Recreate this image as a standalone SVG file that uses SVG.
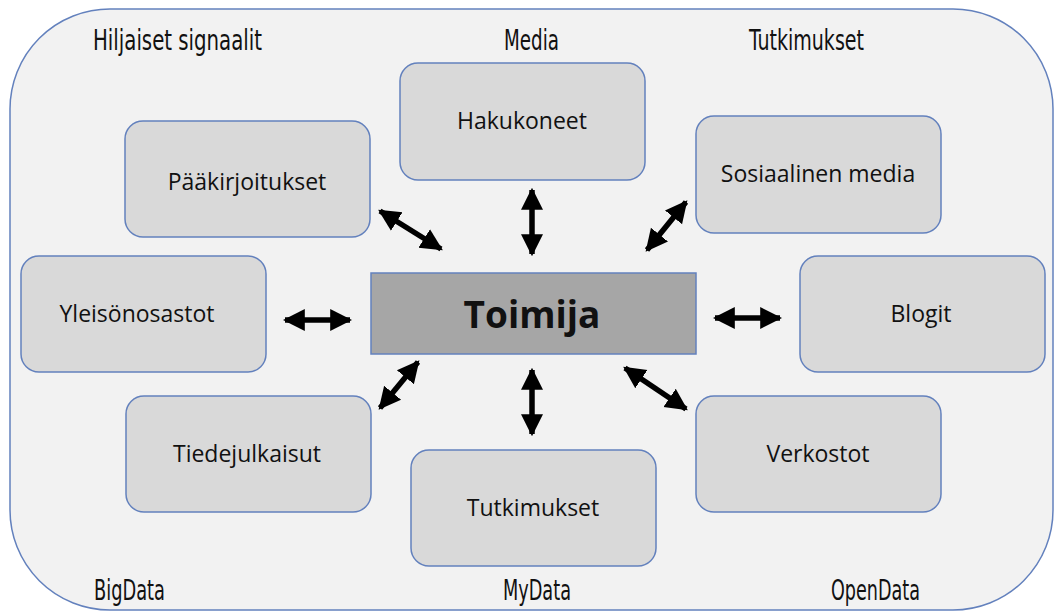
<svg xmlns="http://www.w3.org/2000/svg" width="1054" height="612" viewBox="0 0 1054 612">
<defs>
<marker id="ah" viewBox="0 0 10 10" refX="9" refY="5" markerWidth="4" markerHeight="4.6" orient="auto-start-reverse" markerUnits="strokeWidth">
<path d="M0,0 L10,5 L0,10 Z" fill="#000"/>
</marker>
<style>
.bg{fill:#f2f2f2;stroke:#6381bd;stroke-width:1.5}
.nd{fill:#d9d9d9;stroke:#6381bd;stroke-width:1.5}
.ct{fill:#a6a6a6;stroke:#6381bd;stroke-width:1.5}
.t{font-family:"Open Sans","Liberation Sans",sans-serif;font-size:23px;fill:#111;text-anchor:middle}
.tb{font-family:"Open Sans","Liberation Sans",sans-serif;font-size:37px;font-weight:bold;fill:#111;text-anchor:middle}
.lb{font-family:"DejaVu Sans Condensed","Liberation Sans",sans-serif;font-size:29px;fill:#111}
.ar{stroke:#000;stroke-width:5.5;fill:none;marker-start:url(#ah);marker-end:url(#ah)}
</style>
</defs>
<rect x="10" y="9" width="1043" height="601" rx="100" ry="100" class="bg"/>
<g id="labels">
<text class="lb" x="93" y="50" textLength="169" lengthAdjust="spacingAndGlyphs">Hiljaiset signaalit</text>
<text class="lb" x="504" y="50" textLength="55" lengthAdjust="spacingAndGlyphs">Media</text>
<text class="lb" x="749" y="50" textLength="115" lengthAdjust="spacingAndGlyphs">Tutkimukset</text>
<text class="lb" x="94" y="600" textLength="71" lengthAdjust="spacingAndGlyphs">BigData</text>
<text class="lb" x="503" y="600" textLength="68" lengthAdjust="spacingAndGlyphs">MyData</text>
<text class="lb" x="831" y="600" textLength="89" lengthAdjust="spacingAndGlyphs">OpenData</text>
</g>
<g id="connectors">
<line class="ar" x1="380" y1="211" x2="441" y2="249"/>
<line class="ar" x1="532" y1="190" x2="532" y2="254"/>
<line class="ar" x1="686" y1="202" x2="647" y2="250"/>
<line class="ar" x1="285" y1="320" x2="350" y2="320"/>
<line class="ar" x1="715" y1="318" x2="780" y2="318"/>
<line class="ar" x1="418" y1="362" x2="380" y2="408"/>
<line class="ar" x1="532" y1="370" x2="532" y2="434"/>
<line class="ar" x1="625" y1="368" x2="686" y2="409"/>
</g>
<g id="hakukoneet"><rect class="nd" x="400" y="63" width="245" height="117" rx="18"/><text class="t" x="522" y="129">Hakukoneet</text></g>
<g id="paakirjoitukset"><rect class="nd" x="125" y="121" width="245" height="116" rx="18"/><text class="t" x="247" y="190">Pääkirjoitukset</text></g>
<g id="sosiaalinen-media"><rect class="nd" x="696" y="116" width="245" height="117" rx="18"/><text class="t" x="818" y="182">Sosiaalinen media</text></g>
<g id="yleisonosastot"><rect class="nd" x="21" y="256" width="245" height="116" rx="18"/><text class="t" x="137" y="322">Yleisönosastot</text></g>
<g id="toimija"><rect class="ct" x="371" y="273" width="325" height="81"/><text class="tb" x="532" y="328">Toimija</text></g>
<g id="blogit"><rect class="nd" x="800" y="256" width="245" height="116" rx="18"/><text class="t" x="921" y="322">Blogit</text></g>
<g id="tiedejulkaisut"><rect class="nd" x="126" y="396" width="245" height="116" rx="18"/><text class="t" x="247" y="462">Tiedejulkaisut</text></g>
<g id="tutkimukset"><rect class="nd" x="411" y="450" width="245" height="116" rx="18"/><text class="t" x="533" y="516">Tutkimukset</text></g>
<g id="verkostot"><rect class="nd" x="696" y="396" width="245" height="116" rx="18"/><text class="t" x="818" y="462">Verkostot</text></g>
</svg>
